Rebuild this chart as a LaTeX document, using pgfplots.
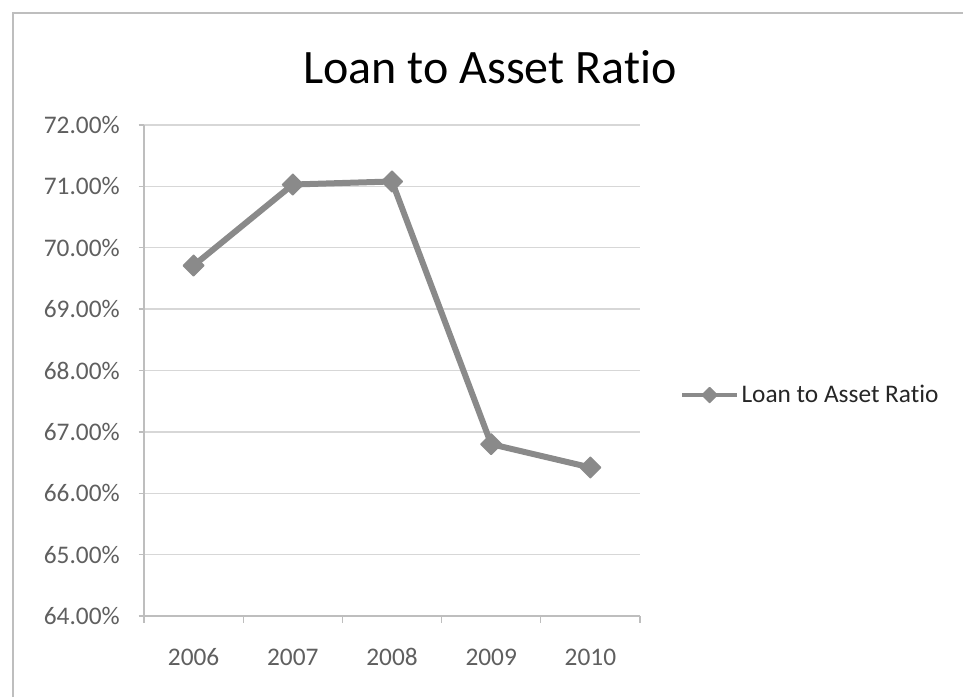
\documentclass[border=0pt]{standalone}
\usepackage{fontspec}
\setmainfont{Carlito}[Ligatures=NoCommon, Numbers=Lining]
\usepackage{pgfplots}
\pgfplotsset{compat=1.18}
\definecolor{linegray}{RGB}{138,138,138}
\definecolor{gridgray}{RGB}{215,215,215}
\definecolor{axisgray}{RGB}{190,190,190}
\definecolor{ticktext}{RGB}{95,95,95}
\begin{document}
\begin{tikzpicture}
\useasboundingbox (0,0) rectangle (722.25pt,522.75pt);
\draw[axisgray, line width=1.2pt] (9.75pt,0pt) -- (9.75pt,513pt) -- (722.25pt,513pt);
\node[anchor=base, font=\fontsize{36}{40}\selectfont] at (367.5pt,459.75pt) {Loan to Asset Ratio};
\begin{axis}[
 at={(108pt,60.75pt)}, anchor=south west, scale only axis,
 width=372pt, height=368.25pt,
 xmin=-0.5, xmax=4.5, ymin=64, ymax=72,
 xtick={0,1,2,3,4}, xticklabels={2006,2007,2008,2009,2010},
 minor xtick={-0.5,0.5,1.5,2.5,3.5,4.5},
 ytick={64,65,...,72},
 ymajorgrids, major grid style={gridgray, line width=1pt},
 axis x line=bottom, axis y line=left,
 axis line style={-, draw=axisgray, line width=1pt},
 tick style={draw=axisgray, line width=1pt},
 major tick length=4pt, minor tick length=5pt,
 tick align=outside,
 major x tick style={draw=none},
 /pgf/number format/assume math mode=true,
 yticklabel={\pgfmathprintnumber[fixed,fixed zerofill,precision=2]{\tick}\%},
 ticklabel style={font=\fontsize{19}{22}\selectfont, text=ticktext, inner sep=0pt},
 xticklabel style={text height=13pt, text depth=0pt},
 xticklabel shift=20pt,
 yticklabel shift=14pt,
 legend style={at={(1.0806,0.45)}, anchor=west, draw=none, fill=none, inner sep=0pt,
   font=\fontsize{19}{22}\selectfont, text=black!85, legend cell align=left},
 legend image code/.code={
   \draw[#1, line width=3pt] (0pt,0pt) -- (41pt,0pt);
   \draw[#1, mark size=4pt, only marks] plot coordinates {(20.5pt,0pt)};
 },
]
\addplot[linegray, line width=4.5pt, line join=round, mark=square*, mark size=5.5pt,
  mark options={rotate=45, line width=1pt, fill=linegray, draw=linegray}]
  coordinates {(0,69.71) (1,71.03) (2,71.08) (3,66.80) (4,66.42)};
\addlegendentry{Loan to Asset Ratio}
\end{axis}
\end{tikzpicture}
\end{document}
